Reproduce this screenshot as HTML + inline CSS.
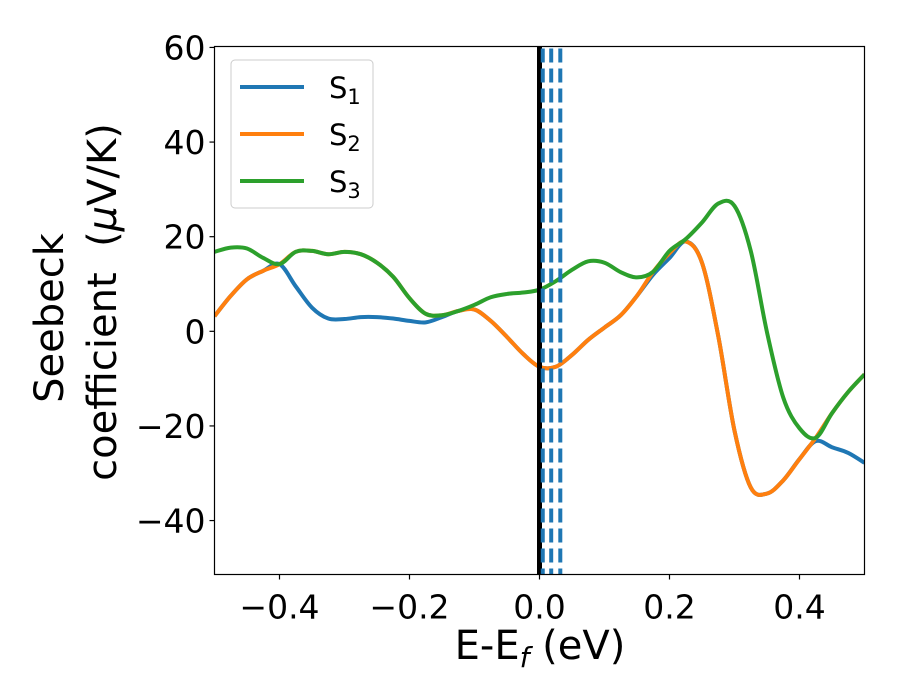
<!DOCTYPE html>
<html><head><meta charset="utf-8"><style>
html,body{margin:0;padding:0;background:#fff;}
svg{display:block;font-family:"DejaVu Sans","Liberation Sans",sans-serif;}
</style></head><body>
<svg id="chart" width="900" height="700" viewBox="0 0 900 700">
  <g id="plot"></g>
  <rect x="214.5" y="46.5" width="650" height="528" fill="none" stroke="#000" stroke-width="1.2"/>
  <g id="xticks"></g>
  <g id="yticks"></g>
  <text x="540" y="659" font-size="40" text-anchor="middle">E-E<tspan font-size="28" font-style="italic" dy="8">f</tspan><tspan dy="-8"> (eV)</tspan></text>
  <text transform="translate(63,318) rotate(-90)" font-size="40" text-anchor="middle">Seebeck</text>
  <text transform="translate(116,302) rotate(-90)" font-size="40" text-anchor="middle" xml:space="preserve">coefficient  (<tspan font-style="italic">μ</tspan>V/K)</text>
  <g id="legend">
    <rect x="231" y="60" width="142" height="148" rx="4" fill="#fff" fill-opacity="0.8" stroke="#ccc" stroke-width="1"/>
  </g>
</svg>
<script>
const energies = [-0.5,-0.475,-0.45,-0.425,-0.4,-0.375,-0.35,-0.325,-0.3,-0.275,-0.25,-0.225,-0.2,-0.175,-0.15,-0.125,-0.1,-0.075,-0.05,-0.025,0,0.025,0.05,0.075,0.1,0.125,0.15,0.175,0.2,0.225,0.25,0.275,0.3,0.325,0.35,0.375,0.4,0.425,0.45,0.475,0.5];
const s1 = [3.2,7.5,11,12.8,14.2,9.5,5,2.7,2.6,3,3,2.7,2.2,1.9,3,4.3,4.6,2.2,-1.2,-4.8,-7.5,-7.5,-5,-1.8,0.8,3.4,7.5,12,15.5,19,14.5,-1,-21,-33,-34.3,-31.5,-27,-23.2,-24.5,-25.7,-27.8];
const s2 = [3.2,7.5,11,12.8,14.2,16.8,17,16.3,16.8,16.3,14.5,11.5,7,3.7,3.4,4.3,4.6,2.2,-1.2,-4.8,-7.5,-7.5,-5,-1.8,0.8,3.4,7.5,12.6,16.5,19,14.5,-1,-21,-33,-34.3,-31.5,-27,-22.5,-17.3,-12.8,-9.1];
const s3 = [16.8,17.7,17.5,15.5,14.2,16.8,17,16.3,16.8,16.3,14.5,11.5,7,3.7,3.4,4.3,5.6,7.2,7.9,8.2,8.8,10.6,13,14.8,14.5,12.5,11.4,12.6,17,19.5,23,27,26.5,17,-0.2,-14,-20.5,-22.5,-17.3,-12.8,-9.1];
const vlines = [0.005,0.018,0.032];
const xTicks = [-0.4,-0.2,0.0,0.2,0.4];
const xTickLabels = ["−0.4","−0.2","0.0","0.2","0.4"];
const yTicks = [-40,-20,0,20,40,60];
const yTickLabels = ["−40","−20","0","20","40","60"];
const seriesNames = ["S1","S2","S3"];

const NS="http://www.w3.org/2000/svg";
const X0=214.5,X1=864.5,Y0=46.5,Y1=574.5,XMIN=-0.5,XMAX=0.5,YMIN=-51.4,YMAX=60.2;
const xs=v=>X0+(v-XMIN)/(XMAX-XMIN)*(X1-X0);
const ys=v=>Y1-(v-YMIN)/(YMAX-YMIN)*(Y1-Y0);
function mk(t,a,p){const e=document.createElementNS(NS,t);for(const k in a)e.setAttribute(k,a[k]);p.appendChild(e);return e;}
function pathFor(vals){
  const P=energies.map((e,i)=>[xs(e),ys(vals[i])]);
  let d="M"+P[0][0]+","+P[0][1];
  for(let i=0;i<P.length-1;i++){
    const p0=P[Math.max(0,i-1)],p1=P[i],p2=P[i+1],p3=P[Math.min(P.length-1,i+2)];
    const c1=[p1[0]+(p2[0]-p0[0])/6,p1[1]+(p2[1]-p0[1])/6];
    const c2=[p2[0]-(p3[0]-p1[0])/6,p2[1]-(p3[1]-p1[1])/6];
    d+=" C"+c1+" "+c2+" "+p2;
  }
  return d;
}
const plot=document.getElementById('plot');
mk('clipPath',{id:'clip'},plot);
mk('rect',{x:X0,y:Y0,width:X1-X0,height:Y1-Y0},document.getElementById('clip'));
const colors=["#1f77b4","#ff7f0e","#2ca02c"];
[s1,s2,s3].forEach((s,i)=>{
  const p=mk('path',{d:pathFor(s),fill:'none',stroke:colors[i],'stroke-width':4,'clip-path':'url(#clip)'},plot);
  
  
});
const zl=mk('line',{x1:xs(0),x2:xs(0),y1:Y0,y2:Y1,stroke:'#000','stroke-width':5},plot);


vlines.forEach((v,i)=>{
  const l=mk('line',{x1:xs(v),x2:xs(v),y1:Y0+2,y2:Y1,stroke:'#1f77b4','stroke-width':4,'stroke-dasharray':'14,6'},plot);
  
  
});
const xg=document.getElementById('xticks');
xTicks.forEach((v,i)=>{
  mk('line',{x1:xs(v),x2:xs(v),y1:Y1,y2:Y1+5,stroke:'#000','stroke-width':1.2},xg);
  const t=mk('text',{x:xs(v),y:Y1+44,'font-size':33,'text-anchor':'middle'},xg);
  t.textContent=xTickLabels[i];
  
  
});
const yg=document.getElementById('yticks');
yTicks.forEach((v,i)=>{
  mk('line',{x1:X0-5,x2:X0,y1:ys(v),y2:ys(v),stroke:'#000','stroke-width':1.2},yg);
  const t=mk('text',{x:X0-9,y:ys(v)+12,'font-size':33,'text-anchor':'end'},yg);
  t.textContent=yTickLabels[i];
  
  
});
const lg=document.getElementById('legend');
seriesNames.forEach((n,i)=>{
  const y=87+i*47;
  const g=mk('g',{},lg);
  
  
  mk('line',{x1:240,x2:304,y1:y,y2:y,stroke:colors[i],'stroke-width':4},g);
  const t=mk('text',{x:329,y:y+11,'font-size':29},g);
  t.textContent="S";
  const s=mk('tspan',{'font-size':21,dy:6},t);
  s.textContent=String(i+1);
});
</script>
</body></html>
